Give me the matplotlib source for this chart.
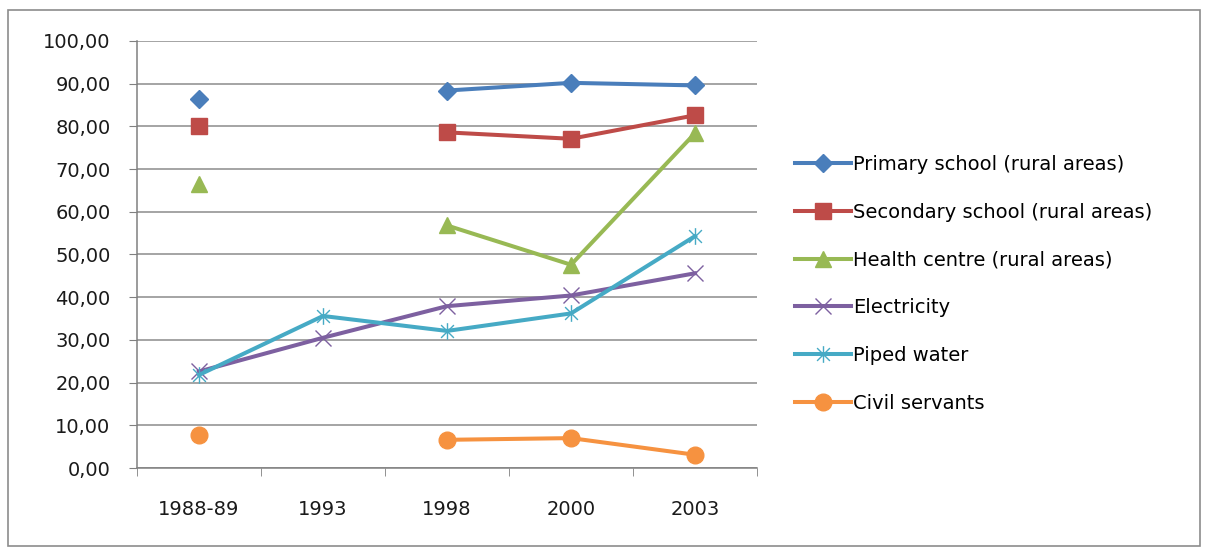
import numpy as np
import matplotlib
matplotlib.use("Agg")
import matplotlib.pyplot as plt
from matplotlib.path import Path
from matplotlib.patches import Rectangle
from matplotlib.ticker import FuncFormatter, FixedLocator

plt.rcParams["font.family"] = ["DejaVu Sans"]

years = ["1988-89", "1993", "1998", "2000", "2003"]
nan = np.nan

primary_school = [86.4, nan, 88.4, 90.2, 89.6]
secondary_school = [80.2, nan, 78.6, 77.1, 82.6]
health_centre = [66.6, nan, 56.8, 47.6, 78.4]
electricity = [22.6, 30.5, 37.9, 40.4, 45.6]
piped_water = [21.8, 35.6, 32.1, 36.2, 54.3]
civil_servants = [7.8, nan, 6.6, 7.0, 3.1]

labels = ["Primary school (rural areas)", "Secondary school (rural areas)",
          "Health centre (rural areas)", "Electricity", "Piped water",
          "Civil servants"]

# Excel-style star: an x with a vertical stroke through it
star = Path([(-1, -1), (1, 1), (-1, 1), (1, -1), (0, -1.3), (0, 1.3)],
            [Path.MOVETO, Path.LINETO, Path.MOVETO, Path.LINETO,
             Path.MOVETO, Path.LINETO])

styles = [
    dict(color="#4A7EBB", marker="D", ms=9, mfc="#4A7EBB"),
    dict(color="#BE4B48", marker="s", ms=12, mfc="#BE4B48"),
    dict(color="#98B954", marker="^", ms=12, mfc="#98B954"),
    dict(color="#7D60A0", marker="x", ms=12, mew=1.0, mfc="none"),
    dict(color="#46AAC5", marker=star, ms=12, mew=1.0, mfc="none"),
    dict(color="#F69240", marker="o", ms=12, mfc="#F69240"),
]
series = [primary_school, secondary_school, health_centre, electricity,
          piped_water, civil_servants]

W, H = 1205, 550
fig = plt.figure(figsize=(W / 100, H / 100), dpi=100)
fig.patches.append(Rectangle((8 / W, 4 / H), 1192 / W, (540 - 4) / H,
                             transform=fig.transFigure, fill=False,
                             edgecolor="#8c8c8c", lw=1.2))

ax = fig.add_axes([137 / W, (550 - 468) / H, (757 - 137) / W, (468 - 41) / H])
x = np.arange(len(years))
handles = []
for vals, st, lab in zip(series, styles, labels):
    h, = ax.plot(x, vals, lw=2.9, label=lab, mec=st["color"], **st)
    handles.append(h)

ax.set_xlim(-0.5, len(years) - 0.5)
ax.set_ylim(0, 100)
ax.set_yticks(np.arange(0, 101, 10))
ax.yaxis.set_major_formatter(FuncFormatter(lambda v, p: f"{v:.2f}".replace(".", ",")))
ax.set_xticks(x)
ax.set_xticklabels(years)
ax.xaxis.set_minor_locator(FixedLocator(np.arange(-0.5, len(years), 1.0)))
ax.tick_params(axis="x", which="major", length=0, pad=23, labelsize=14,
               labelcolor="#1a1a1a")
ax.tick_params(axis="x", which="minor", length=6, color="#808080")
ax.tick_params(axis="y", length=6, color="#808080", pad=13, labelsize=14,
               labelcolor="#1a1a1a")
ax.grid(axis="y", color="#8c8c8c", lw=1.1)
ax.set_axisbelow(True)
for side in ("top", "right"):
    ax.spines[side].set_visible(False)
for side in ("left", "bottom"):
    ax.spines[side].set_color("#808080")
    ax.spines[side].set_linewidth(1.1)

fig.legend(handles=handles, loc="upper left", bbox_to_anchor=(787 / W, 1 - 147 / H),
           frameon=False, fontsize=14, handlelength=2.9, handletextpad=0.1,
           labelspacing=1.48, borderaxespad=0)

fig.savefig("out.png", dpi=100)
